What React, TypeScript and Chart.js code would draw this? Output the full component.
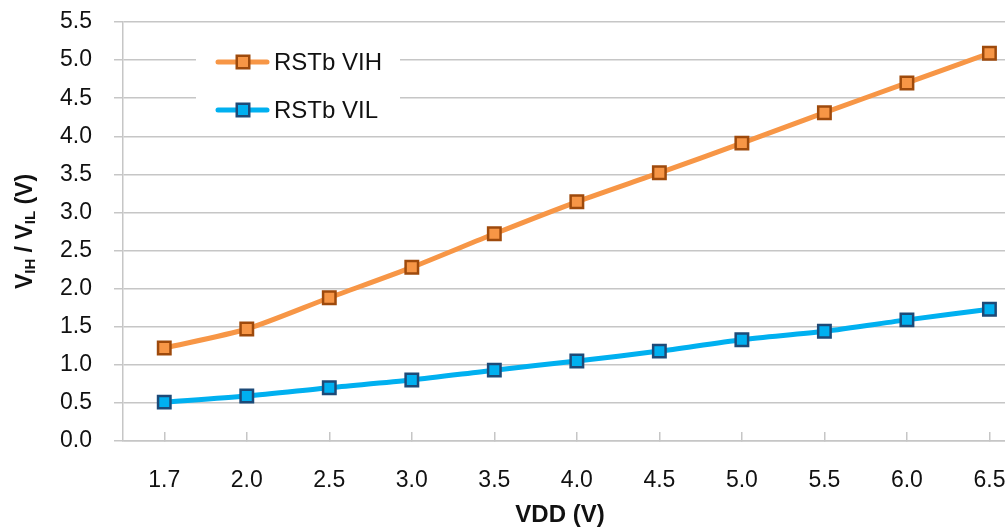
import React, { useEffect, useRef } from 'react';
import { Chart, registerables } from 'chart.js';

Chart.register(...registerables);

const categories = ['1.7', '2.0', '2.5', '3.0', '3.5', '4.0', '4.5', '5.0', '5.5', '6.0', '6.5'];
const vihValues = [1.22, 1.47, 1.88, 2.28, 2.72, 3.14, 3.52, 3.91, 4.31, 4.7, 5.09];
const vilValues = [0.51, 0.59, 0.7, 0.8, 0.93, 1.05, 1.18, 1.33, 1.44, 1.59, 1.73];
const seriesNames = ['RSTb VIH', 'RSTb VIL'];
const yMin = 0;
const yMax = 5.5;
const yStep = 0.5;
const xTitle = 'VDD (V)';

const FONT = '"Liberation Sans", Arial, sans-serif';
const GRID = '#c6c6c6';
const TEXT = '#111111';

const overlayPlugin = {
  id: 'overlay',
  afterDraw(chart: any) {
    const ctx = chart.ctx as CanvasRenderingContext2D;
    const area = chart.chartArea;
    ctx.save();

    // legend box (covers gridlines)
    ctx.fillStyle = '#ffffff';
    ctx.fillRect(196, 36, 204, 92);
    const rows = [62, 110];
    chart.data.datasets.forEach((ds: any, i: number) => {
      const y = rows[i];
      ctx.strokeStyle = ds.borderColor;
      ctx.lineWidth = 5;
      ctx.lineCap = 'round';
      ctx.beginPath();
      ctx.moveTo(218, y);
      ctx.lineTo(267, y);
      ctx.stroke();
      ctx.fillStyle = ds.pointBackgroundColor;
      ctx.strokeStyle = ds.pointBorderColor;
      ctx.lineWidth = 2.5;
      ctx.beginPath();
      ctx.rect(243 - 6.25, y - 6.25, 12.5, 12.5);
      ctx.fill();
      ctx.stroke();
      ctx.fillStyle = TEXT;
      ctx.font = `24px ${FONT}`;
      ctx.textAlign = 'left';
      ctx.textBaseline = 'middle';
      ctx.fillText(ds.label, 274, y + 1);
    });

    // x title
    ctx.fillStyle = TEXT;
    ctx.font = `bold 24px ${FONT}`;
    ctx.textAlign = 'center';
    ctx.textBaseline = 'alphabetic';
    ctx.fillText(xTitle, 560, 522);

    // y title with subscripts
    const parts: Array<[string, boolean]> = [
      ['V', false],
      ['IH', true],
      [' / ', false],
      ['V', false],
      ['IL', true],
      [' (V)', false],
    ];
    const mainFont = `bold 23px ${FONT}`;
    const subFont = `bold 15px ${FONT}`;
    let total = 0;
    const widths = parts.map(([t, sub]) => {
      ctx.font = sub ? subFont : mainFont;
      const w = ctx.measureText(t).width;
      total += w;
      return w;
    });
    const cy = (area.top + area.bottom) / 2;
    ctx.translate(32, cy);
    ctx.rotate(-Math.PI / 2);
    ctx.textAlign = 'left';
    let x = -total / 2;
    parts.forEach(([t, sub], i) => {
      ctx.font = sub ? subFont : mainFont;
      ctx.fillText(t, x, sub ? 3 : 0);
      x += widths[i];
    });
    ctx.restore();
  },
};

export default function App() {
  const ref = useRef<HTMLCanvasElement | null>(null);

  useEffect(() => {
    if (!ref.current) return;
    const chart = new Chart(ref.current, {
      type: 'line',
      data: {
        labels: categories,
        datasets: [
          {
            label: seriesNames[0],
            data: vihValues,
            borderColor: '#f79646',
            borderWidth: 5,
            pointStyle: 'rect',
            pointRadius: 8.8,
            pointBorderWidth: 2.5,
            pointBackgroundColor: '#f79646',
            pointBorderColor: '#9e4a0c',
            tension: 0.25,
          },
          {
            label: seriesNames[1],
            data: vilValues,
            borderColor: '#00b0f0',
            borderWidth: 5,
            pointStyle: 'rect',
            pointRadius: 8.8,
            pointBorderWidth: 2.5,
            pointBackgroundColor: '#00b0f0',
            pointBorderColor: '#1d4a78',
            tension: 0.25,
          },
        ],
      },
      options: {
        responsive: false,
        animation: false,
        layout: { padding: { top: 22, left: 0, right: 0, bottom: 0 } },
        plugins: {
          legend: { display: false },
          tooltip: { enabled: false },
          title: { display: false },
        },
        scales: {
          x: {
            type: 'category',
            offset: true,
            afterFit: (s: any) => {
              s.height = 88;
            },
            grid: {
              offset: false,
              drawOnChartArea: false,
              drawTicks: true,
              tickLength: -9,
              color: GRID,
              lineWidth: 1.5,
            },
            border: { display: true, color: GRID, width: 1.5 },
            ticks: {
              color: TEXT,
              font: { family: FONT, size: 23 },
              padding: 35,
              maxRotation: 0,
              autoSkip: false,
            },
          },
          y: {
            min: yMin,
            max: yMax,
            afterFit: (s: any) => {
              s.width = 123;
              s.paddingTop = 0;
              s.paddingBottom = 0;
            },
            grid: {
              color: GRID,
              lineWidth: 1.5,
              tickLength: 9,
              drawTicks: true,
            },
            border: { display: true, color: GRID, width: 1.5 },
            ticks: {
              stepSize: yStep,
              color: TEXT,
              font: { family: FONT, size: 23 },
              padding: 22,
              callback: (v: any) => Number(v).toFixed(1),
            },
          },
        },
      },
      plugins: [overlayPlugin],
    });
    return () => chart.destroy();
  }, []);

  return (
    <div
      style={{
        position: 'absolute',
        left: 0,
        top: 0,
        width: 1005,
        height: 529,
        overflow: 'hidden',
        background: '#ffffff',
      }}
    >
      <canvas ref={ref} width={1042} height={529} style={{ display: 'block', width: 1042, height: 529 }} />
    </div>
  );
}
